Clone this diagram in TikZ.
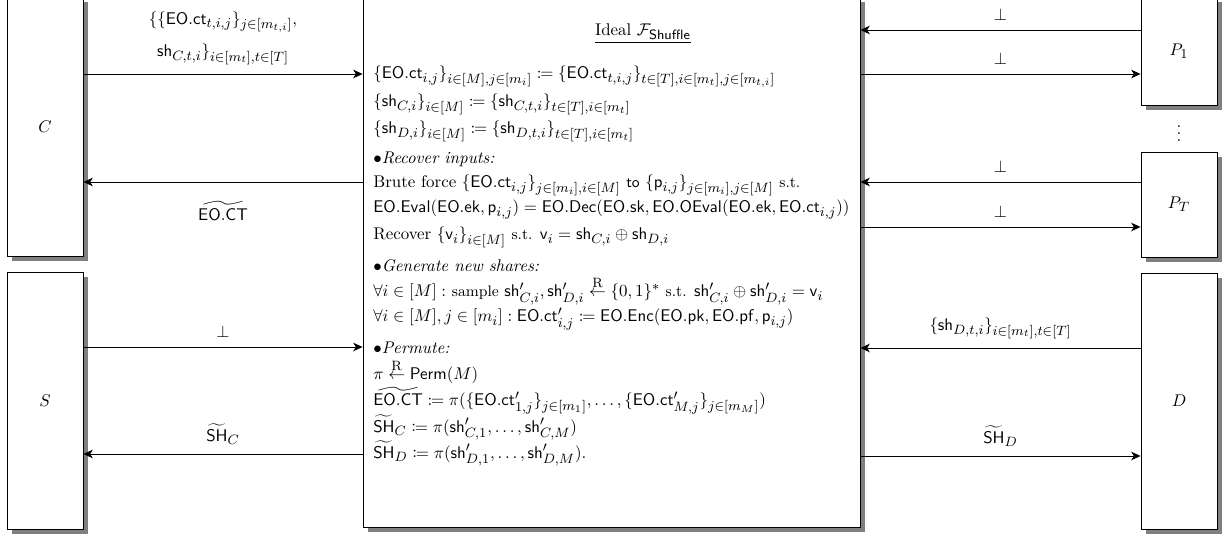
\documentclass[tikz,border=0pt]{standalone}
\usepackage{amsmath,amssymb,mathtools}
\usetikzlibrary{arrows.meta,shadows,calc,fit}

\DeclareMathSizes{10}{10}{8}{6}

\newcommand{\EO}[1]{\mathsf{EO.#1}}
\newcommand{\shv}{\mathsf{sh}}
\newcommand{\rgets}{\stackrel{\mathrm{R}}{\leftarrow}}

\tikzset{
  party/.style={draw, fill=white, line width=0.5pt, inner sep=0pt,
    drop shadow={shadow xshift=3pt, shadow yshift=-3.1pt, fill=gray, opacity=1}},
  msg/.style={-{Stealth[length=5.5pt,width=5pt,inset=1.5pt]}, line width=0.5pt},
  row/.style={anchor=base west, inner sep=0pt},
  lbl/.style={midway, above=2pt},
}

\begin{document}
\begin{tikzpicture}[x=0.0208cm, y=-0.0208cm]
\clip (0,0) rectangle (1225,539);

% parties
\node[party, fit={(7,-3) (83,256)}, label=center:$C$] (C) {};
\node[party, fit={(7,272) (83,529)}, label=center:$S$] (S) {};
\node[party, fit={(1141,-3) (1217,105)}, label=center:$P_1$] (P1) {};
\node[party, fit={(1141,152) (1217,257)}, label=center:$P_T$] (PT) {};
\node[party, fit={(1141,273) (1217,529)}, label=center:$D$] (D) {};
\node (dots) at ($(P1.south)!0.5!(PT.north)$) {$\vdots$};

% ideal functionality
\node[party, fit={(363,-3) (860,527)}] (F) {};
\node[anchor=base, inner sep=0pt] (title) at (643,36) {\underline{Ideal $\mathcal{F}_{\mathsf{Shuffle}}$}};
\node[row] (l1) at (373,79) {$\{\EO{ct}_{i,j}\}_{i\in[M],j\in[m_i]} \coloneqq \{\EO{ct}_{t,i,j}\}_{t\in[T],i\in[m_t],j\in[m_{t,i}]}$};
\node[row] (l2) at (373,107) {$\{\shv_{C,i}\}_{i\in[M]} \coloneqq \{\shv_{C,t,i}\}_{t\in[T],i\in[m_t]}$};
\node[row] (l3) at (373,134) {$\{\shv_{D,i}\}_{i\in[M]} \coloneqq \{\shv_{D,t,i}\}_{t\in[T],i\in[m_t]}$};
\node[row] (l4) at (373,164) {$\bullet$\textit{Recover inputs:}};
\node[row] (l5) at (373,188) {Brute force $\{\EO{ct}_{i,j}\}_{j\in[m_i],i\in[M]}$ {\small\textsf{to}} $\{\mathsf{p}_{i,j}\}_{j\in[m_i],j\in[M]}$ {\small s.t.}};
\node[row] (l6) at (373,213) {$\EO{Eval}(\EO{ek},\mathsf{p}_{i,j}) = \EO{Dec}(\EO{sk},\EO{OEval}(\EO{ek},\EO{ct}_{i,j}))$};
\node[row] (l7) at (373,240) {Recover $\{\mathsf{v}_i\}_{i\in[M]}$ {\small s.t.} $\mathsf{v}_i = \shv_{C,i}\oplus\shv_{D,i}$};
\node[row] (l8) at (373,272) {$\bullet$\textit{Generate new shares:}};
\node[row] (l9) at (373,297) {$\forall i\in[M]:$ {\small sample} $\shv'_{C,i},\shv'_{D,i}\rgets\{0,1\}^*$ {\small s.t.} $\shv'_{C,i}\oplus\shv'_{D,i}=\mathsf{v}_i$};
\node[row] (l10) at (373,322) {$\forall i\in[M], j\in[m_i]: \EO{ct}'_{i,j}\coloneqq\EO{Enc}(\EO{pk},\EO{pf},\mathsf{p}_{i,j})$};
\node[row] (l11) at (373,354) {$\bullet$\textit{Permute:}};
\node[row] (l12) at (373,380) {$\pi\rgets\mathsf{Perm}(M)$};
\node[row] (l13) at (373,406) {$\widetilde{\EO{CT}}\coloneqq\pi(\{\EO{ct}'_{1,j}\}_{j\in[m_1]},\dots,\{\EO{ct}'_{M,j}\}_{j\in[m_M]})$};
\node[row] (l14) at (373,432) {$\widetilde{\mathsf{SH}}_C\coloneqq\pi(\shv'_{C,1},\dots,\shv'_{C,M})$};
\node[row] (l15) at (373,458) {$\widetilde{\mathsf{SH}}_D\coloneqq\pi(\shv'_{D,1},\dots,\shv'_{D,M})$.};

% messages
\draw[msg] (C.east |- 0,74) -- (F.west |- 0,74)
  node[lbl, align=center] {$\{\{\EO{ct}_{t,i,j}\}_{j\in[m_{t,i}]},$\\[6pt] $\shv_{C,t,i}\}_{i\in[m_t],t\in[T]}$};
\draw[msg] (F.west |- 0,182) -- (C.east |- 0,182) node[midway, below=8pt] {$\widetilde{\EO{CT}}$};
\draw[msg] (S.east |- 0,347) -- (F.west |- 0,347) node[lbl] {$\bot$};
\draw[msg] (F.west |- 0,454) -- (S.east |- 0,454) node[lbl] {$\widetilde{\mathsf{SH}}_C$};
\draw[msg] (P1.west |- 0,30) -- (F.east |- 0,30) node[lbl] {$\bot$};
\draw[msg] (F.east |- 0,74) -- (P1.west |- 0,74) node[lbl] {$\bot$};
\draw[msg] (PT.west |- 0,182) -- (F.east |- 0,182) node[lbl] {$\bot$};
\draw[msg] (F.east |- 0,227) -- (PT.west |- 0,227) node[lbl] {$\bot$};
\draw[msg] (D.west |- 0,348) -- (F.east |- 0,348) node[lbl] {$\{\shv_{D,t,i}\}_{i\in[m_t],t\in[T]}$};
\draw[msg] (F.east |- 0,456) -- (D.west |- 0,456) node[lbl] {$\widetilde{\mathsf{SH}}_D$};
\end{tikzpicture}
\end{document}
